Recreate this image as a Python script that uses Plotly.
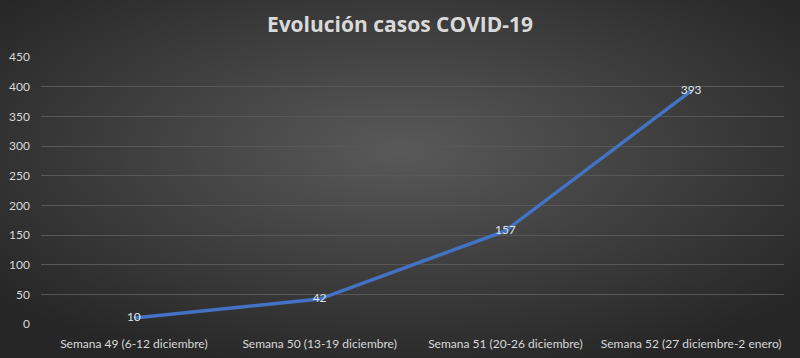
import base64
import plotly.graph_objects as go

categories = ["Semana 49 (6-12 diciembre)", "Semana 50 (13-19 diciembre)",
              "Semana 51 (20-26 diciembre)", "Semana 52 (27 diciembre-2 enero)"]
casos = [10, 42, 157, 393]
y_ticks = [0, 50, 100, 150, 200, 250, 300, 350, 400, 450]

W, H = 800, 358
L, R, T, B = 41, 16, 57, 34
pw, ph = W - L - R, H - T - B
FONT = "Lato, Liberation Sans, sans-serif"

svg = (f"<svg xmlns='http://www.w3.org/2000/svg' width='{W}' height='{H}' viewBox='0 0 {W} {H}' preserveAspectRatio='none'>"
       "<defs><radialGradient id='g' cx='50%' cy='42%' r='65%'>"
       "<stop offset='0' stop-color='#595959'/><stop offset='1' stop-color='#262626'/>"
       "</radialGradient></defs><rect width='100%' height='100%' fill='url(#g)'/></svg>")
src = "data:image/svg+xml;base64," + base64.b64encode(svg.encode()).decode()

fig = go.Figure()
fig.add_trace(go.Scatter(
    x=categories, y=casos, mode="lines+text",
    line=dict(color="#4472C4", width=3.5),
    text=[str(v) for v in casos], textposition="middle center",
    textfont=dict(family=FONT, size=12, color="#dfe3ea"),
    hoverinfo="skip", showlegend=False,
))

fig.update_layout(
    width=W, height=H,
    margin=dict(l=L, r=R, t=T, b=B),
    paper_bgcolor="#333333", plot_bgcolor="rgba(0,0,0,0)",
    title=dict(text="<b>Evolución casos COVID-19</b>", x=0.5, xanchor="center",
               y=1 - 25 / H, yanchor="middle",
               font=dict(family="Open Sans, Lato, sans-serif", size=21, color="#d9d9d9")),
    images=[dict(source=src, xref="paper", yref="paper",
                 x=-L / pw, y=1 + T / ph, sizex=W / pw, sizey=H / ph,
                 xanchor="left", yanchor="top", sizing="stretch", layer="below")],
    xaxis=dict(type="category", range=[-0.5, 3.5], showgrid=False, zeroline=False,
               showline=False, ticks="", ticklabelstandoff=11, automargin=False,
               tickfont=dict(family=FONT, size=12, color="#d9d9d9")),
    yaxis=dict(range=[0, 450], tickvals=y_ticks, showgrid=True, gridcolor="#585858",
               gridwidth=1, zeroline=False, showline=False, ticks="", ticklabelstandoff=10,
               automargin=False, tickfont=dict(family=FONT, size=12, color="#d9d9d9")),
)

fig.write_html("out.html", config={"displayModeBar": False},
               post_script="document.body.style.margin='0';document.body.style.overflow='hidden';")
